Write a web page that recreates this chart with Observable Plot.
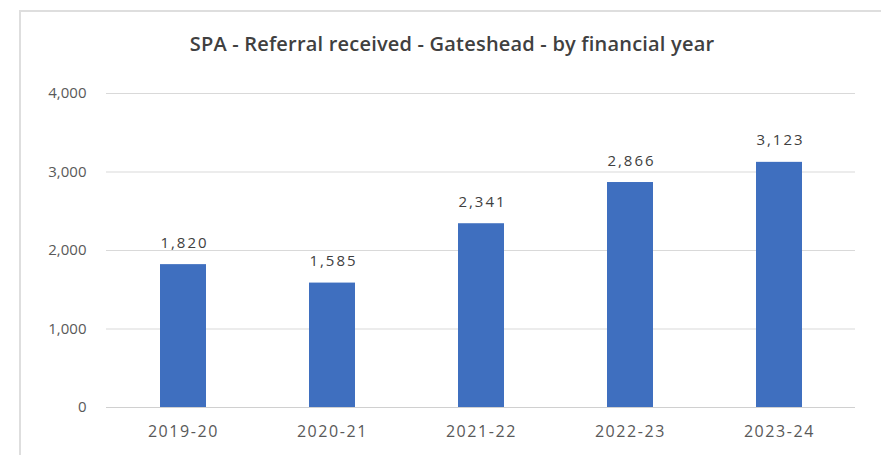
<!DOCTYPE html>
<html><head><meta charset="utf-8">
<script src="https://cdn.jsdelivr.net/npm/d3@7"></script>
<script src="https://cdn.jsdelivr.net/npm/@observablehq/plot@0.6"></script>
<style>
html,body{margin:0;padding:0;background:#fff;}
#wrap{position:relative;width:881px;height:455px;overflow:hidden;}
#frame{position:absolute;left:19px;top:10px;width:900px;height:500px;border:2px solid #dedede;}
#title{position:absolute;left:0;width:904px;top:34px;line-height:20px;text-align:center;font-family:"Open Sans",sans-serif;font-weight:600;font-size:20px;color:#404040;letter-spacing:0.2px;}
#chart{position:absolute;left:0;top:0;}
.xt text{letter-spacing:1.6px;}
.lbl text{letter-spacing:2px;}
</style></head>
<body><div id="wrap"><div id="frame"></div><div id="title">SPA - Referral received - Gateshead - by financial year</div><div id="chart"></div></div>
<script>
const years = ["2019-20","2020-21","2021-22","2022-23","2023-24"];
const referrals = [1820,1585,2341,2866,3123];
const yTicks = [0,1000,2000,3000,4000];

const data = years.map((y,i)=>({year:y, value:referrals[i]}));
const fmt = d3.format(",");
const plot = Plot.plot({
  width: 881, height: 455,
  marginLeft: 106, marginRight: 26, marginTop: 93, marginBottom: 48,
  style: {fontFamily: "'Open Sans', sans-serif", fontSize: "15px", color: "#595959", background: "transparent"},
  x: {domain: years, paddingInner: 0.693, paddingOuter: 0.347, axis: null},
  y: {domain: [0,4000], axis: null},
  marks: [
    Plot.gridY(yTicks, {stroke: "#d9d9d9", strokeOpacity: 1, strokeWidth: 1}),
    Plot.axisY(yTicks, {tickFormat: fmt, label: null, tickSize: 0, tickPadding: 20, fill: "#595959", fontSize: 15}),
    Plot.axisX({label: null, tickSize: 0, tickPadding: 18, fill: "#595959", fontSize: 16, className: "xt"}),
    Plot.barY(data, {x: "year", y: "value", fill: "#3f6fbf"}),
    Plot.text(data, {x: "year", y: "value", text: d => fmt(d.value), lineAnchor: "bottom", dy: -17, dx: 1, fill: "#404040", fontSize: 15, className: "lbl"}),
    Plot.ruleY([0], {stroke: "#d0d0d0"})
  ]
});
document.getElementById("chart").appendChild(plot);
</script>
</body></html>
